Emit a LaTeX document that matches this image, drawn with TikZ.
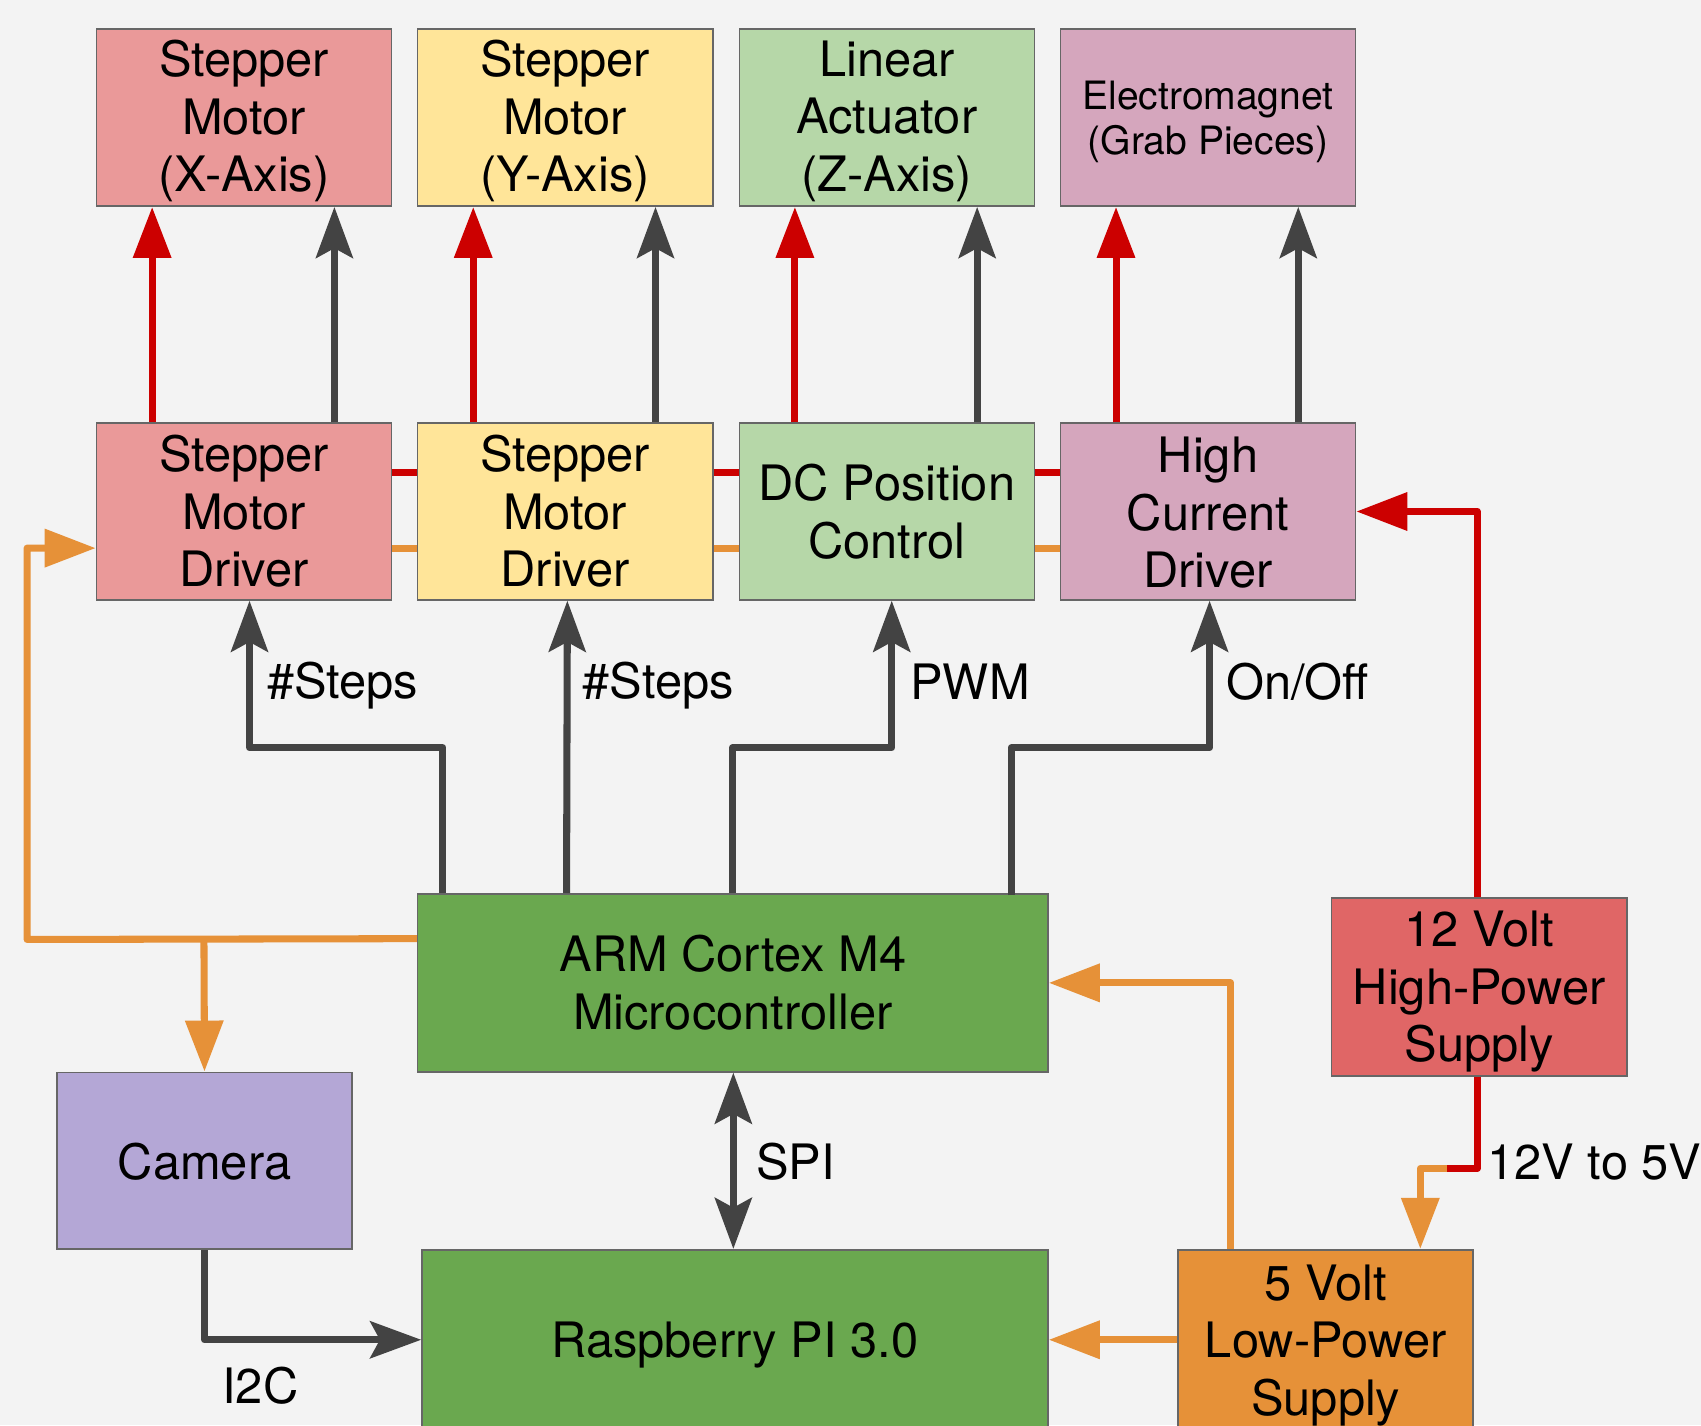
\documentclass[tikz,border=0pt]{standalone}
\usepackage{fontspec}
\setmainfont{TeX Gyre Heros}
\usetikzlibrary{arrows.meta,calc}
\definecolor{bg}{HTML}{F3F3F3}
\definecolor{boxline}{HTML}{666666}
\definecolor{cX}{HTML}{EA9999}
\definecolor{cY}{HTML}{FFE599}
\definecolor{cZ}{HTML}{B6D7A8}
\definecolor{cE}{HTML}{D5A6BD}
\definecolor{cG}{HTML}{6AA84F}
\definecolor{cCam}{HTML}{B4A7D6}
\definecolor{c12}{HTML}{E06666}
\definecolor{c5}{HTML}{E69138}
\definecolor{lred}{HTML}{CC0000}
\definecolor{lgray}{HTML}{434343}
\definecolor{lor}{HTML}{E69138}
\begin{document}
\begin{tikzpicture}[x=1pt,y=-1pt,
  box/.style={draw=boxline, line width=1.5pt, minimum width=272pt, minimum height=163pt, inner sep=0pt},
  txt/.style={inner sep=0pt, align=center, font=\fontsize{45}{53}\selectfont},
  lbl/.style={inner sep=0pt, font=\fontsize{45}{53}\selectfont},
  wire/.style={line width=6.5pt, line join=round},
  redw/.style={wire, draw=lred},
  grayw/.style={wire, draw=lgray},
  orw/.style={wire, draw=lor},
  redarr/.style={redw, -{Triangle[length=47pt,width=34pt]}},
  grayarr/.style={grayw, -{Stealth[length=47pt,width=34pt,inset=9pt]}},
  grayboth/.style={grayw, {Stealth[length=47pt,width=34pt,inset=9pt]}-{Stealth[length=47pt,width=34pt,inset=9pt]}},
  orarr/.style={orw, -{Triangle[length=47pt,width=34pt]}},
]
\useasboundingbox (0,0) rectangle (1568,1314);
\fill[bg] (0,0) rectangle (1568,1314);

% top boxes
\node[box, fill=cX] (m1) at (225,108.5) {};
\node[txt] (tm1) at ($(m1)+(0,3)$) {Stepper\\Motor\\(X-Axis)};
\node[box, fill=cY] (m2) at (521,108.5) {};
\node[txt] (tm2) at ($(m2)+(0,3)$) {Stepper\\Motor\\(Y-Axis)};
\node[box, fill=cZ] (m3) at (817.5,108.5) {};
\node[txt] (tm3) at ($(m3)+(0,3)$) {Linear\\Actuator\\(Z-Axis)};
\node[box, fill=cE] (m4) at (1113.5,108.5) {};
\node[txt, font=\fontsize{36}{42}\selectfont] (tm4) at ($(m4)+(0,4)$) {Electromagnet\\(Grab Pieces)};
% drivers
\node[box, fill=cX] (d1) at (225,471.5) {};
\node[txt] (td1) at (d1) {Stepper\\Motor\\Driver};
\node[box, fill=cY] (d2) at (521,471.5) {};
\node[txt] (td2) at (d2) {Stepper\\Motor\\Driver};
\node[box, fill=cZ] (d3) at (817.5,471.5) {};
\node[txt] (td3) at (d3) {DC Position\\Control};
\node[box, fill=cE] (d4) at (1113.5,471.5) {};
\node[txt] (td4) at ($(d4)+(0,1)$) {High\\Current\\Driver};
% main
\node[box, fill=cG, minimum width=581pt, minimum height=164pt] (arm) at (675.5,906) {};
\node[txt] (tarm) at (arm) {ARM Cortex M4\\Microcontroller};
\node[box, fill=cG, minimum width=577pt, minimum height=166pt] (rpi) at (677.5,1235) {};
\node[txt] (trpi) at ($(rpi)+(0,5)$) {Raspberry PI 3.0};
\node[box, fill=cCam] (cam) at (188.5,1070) {};
\node[txt] (tcam) at ($(cam)+(0,1)$) {Camera};
\node[box, fill=c12, minimum height=164pt] (v12) at (1363.5,910) {};
\node[txt] (tv12) at ($(v12)+(0,4)$) {12 Volt\\High-Power\\Supply};
\node[box, fill=c5, minimum height=166pt] (v5) at (1222,1235) {};
\node[txt] (tv5) at ($(v5)+(0,5)$) {5 Volt\\Low-Power\\Supply};

% bus segments
\foreach \a/\b in {d1/d2,d2/d3,d3/d4}{
  \draw[redw, line join=miter] ($(\a.north east)+(0,46)$) -- ($(\b.north west)+(0,46)$);
  \draw[orw, line join=miter] ($(\a.north east)+(0,116)$) -- ($(\b.north west)+(0,116)$);
}

% driver -> motor
\foreach \d/\m in {d1/m1,d2/m2,d3/m3,d4/m4}{
  \draw[redarr] ($(\d.north west)+(52,0)$) -- ($(\m.south west)+(52,0)$);
  \draw[grayarr] ($(\d.north west)+(220,0)$) -- ($(\m.south west)+(220,0)$);
}

% controller -> drivers
\draw[grayarr] ($(arm.north west)+(24,0)$) -- ++(0,-134) -| ($(d1.south)+(5,0)$);
\draw[grayarr] ($(arm.north west)+(138,0)$) -- ($(d2.south)+(2,0)$);
\draw[grayarr] ($(arm.north west)+(291,0)$) -- ++(0,-134) -| ($(d3.south)+(4.5,0)$);
\draw[grayarr] ($(arm.north west)+(548,2)$) -- ++(0,-136) -| ($(d4.south)+(1.5,0)$);
\node[lbl, anchor=west] (l1) at (246,632) {\#Steps};
\node[lbl, anchor=west] (l2) at (537,632) {\#Steps};
\node[lbl, anchor=west] (l3) at (839,628) {PWM};
\node[lbl, anchor=west] (l4) at (1130,628) {On/Off};

% orange power from controller
\coordinate (ob) at ($(arm.north west)+(0,42)$);
\draw[orarr] (ob) -- (25,866) |- ($(d1.north west)+(0,116)$);
\draw[orarr] (188,866) -- (cam.north);

% 12V to high current driver
\draw[redarr] ($(v12.north west)+(135,0)$) |- (d4.east);

% 5V to controller and RPi
\draw[orarr] ($(v5.north west)+(49,0)$) |- (arm.east);
\draw[orarr] (v5.west) -- (rpi.west -| rpi.east);

% 12V to 5V
\coordinate (cc) at (1334,1077);
\draw[redw] ($(v12.south west)+(135,0)$) |- (cc);
\draw[orarr] (cc) -| ($(v5.north west)+(224,0)$);
\node[lbl, anchor=west] (l5) at (1371,1071) {12V to 5V};

% SPI
\draw[grayboth] (arm.south -| 676,0) -- (rpi.north -| 676,0);
\node[lbl, anchor=west] (l6) at (697,1071) {SPI};

% camera -> RPi
\draw[grayarr] (cam.south) |- (rpi.west);
\node[lbl] (l7) at (240,1277) {I2C};
\end{tikzpicture}
\end{document}
